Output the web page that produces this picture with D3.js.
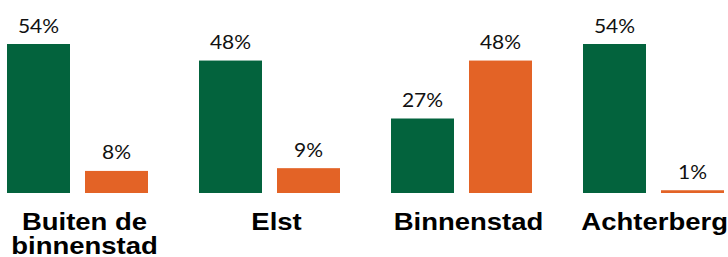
<!DOCTYPE html>
<html>
<head>
<meta charset="utf-8">
<script src="https://cdn.jsdelivr.net/npm/d3@7"></script>
<style>
  html, body { margin: 0; padding: 0; background: #fff; overflow: hidden; }
  svg { display: block; }
</style>
</head>
<body>
<svg id="chart" width="728" height="257"></svg>
<script>
const categories = [["Buiten de", "binnenstad"], ["Elst"], ["Binnenstad"], ["Achterberg"]];
const seriesNames = ["groen", "oranje"];
const greenValues = [54, 48, 27, 54];
const orangeValues = [8, 9, 48, 1];
const colors = ["#03633D", "#E36326"];

const svg = d3.select("#chart");
const W = 728;
const keys = categories.map(c => c.join(" "));
const data = keys.map((k, i) => ({ key: k, lines: categories[i], values: [greenValues[i], orangeValues[i]] }));

const x0 = d3.scaleBand().domain(keys).range([7, 724]).paddingInner(51 / 192).paddingOuter(0);
const x1 = d3.scaleBand().domain(seriesNames).range([0, x0.bandwidth()]).paddingInner(15 / 78).paddingOuter(0);
const y = d3.scaleLinear().domain([0, 54]).range([193, 44]);

const g = svg.selectAll("g.grp").data(data).join("g")
  .attr("class", "grp")
  .attr("transform", d => `translate(${x0(d.key)},0)`);

g.selectAll("rect").data(d => d.values.map((v, j) => ({ s: seriesNames[j], v, j }))).join("rect")
  .attr("x", d => x1(d.s))
  .attr("y", d => y(d.v))
  .attr("width", x1.bandwidth())
  .attr("height", d => y(0) - y(d.v))
  .attr("fill", d => colors[d.j]);

g.selectAll("text.val").data(d => d.values.map((v, j) => ({ s: seriesNames[j], v, j }))).join("text")
  .attr("class", "val")
  .attr("transform", d => `translate(${x1(d.s) + x1.bandwidth() / 2},${y(d.v) - 11.5}) scale(1.05,1)`)
  .attr("text-anchor", "middle")
  .attr("font-family", "Lato, 'Open Sans', sans-serif")
  .attr("font-size", 20)
  .attr("fill", "#111")
  .text(d => d.v + "%");

const sx = 1.17;
const lab = svg.selectAll("text.cat").data(data).join("text")
  .attr("class", "cat")
  .attr("text-anchor", "middle")
  .attr("font-family", "'Liberation Sans', Arial, sans-serif")
  .attr("font-weight", "bold")
  .attr("font-size", 23.5)
  .attr("fill", "#000");

lab.selectAll("tspan").data(d => d.lines).join("tspan")
  .attr("x", 0)
  .attr("y", (d, i) => i * 25)
  .text(d => d);

lab.attr("transform", function(d) {
  const w = this.getBBox().width * sx;
  let cx = x0(d.key) + x0.bandwidth() / 2 + 7;
  if (cx + w / 2 > W) cx = W - w / 2;
  return `translate(${cx},229.5) scale(${sx},1)`;
});
</script>
</body>
</html>
